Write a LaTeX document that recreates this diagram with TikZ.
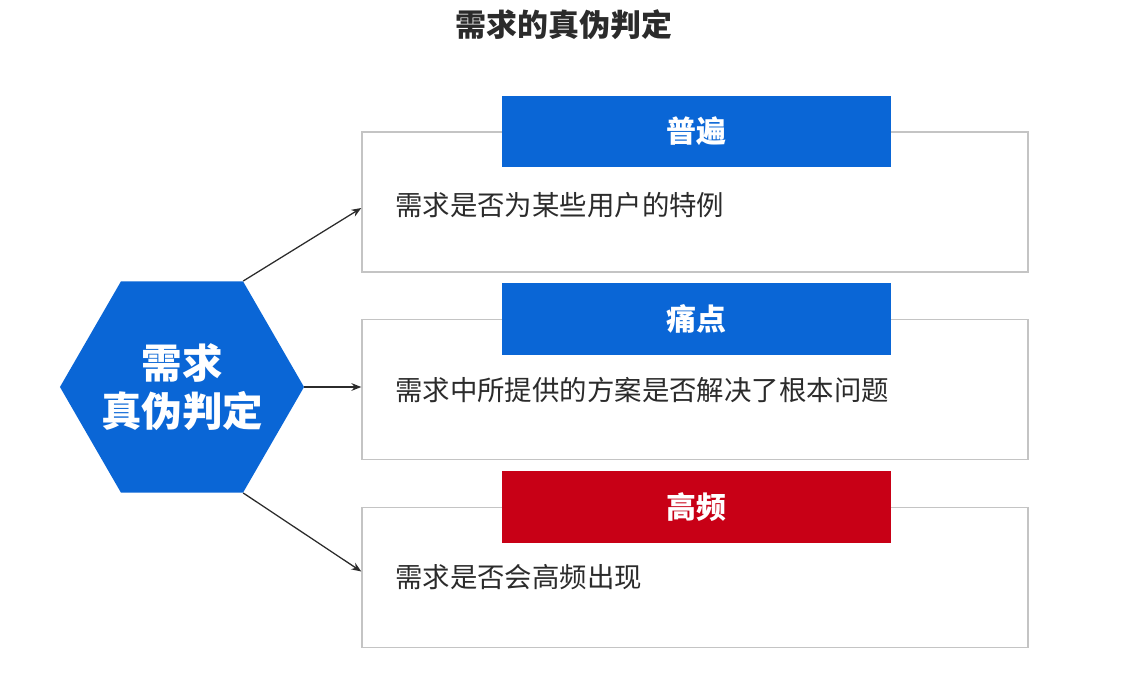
\documentclass[tikz,border=0pt]{standalone}
\usepackage{fontspec}
\setmainfont{Noto Sans CJK SC}
\usepackage{xcolor}
\usepackage{tikz}
\usetikzlibrary{shapes.geometric,arrows.meta,positioning}
\definecolor{judgeblue}{HTML}{0A66D6}
\definecolor{judgered}{HTML}{C80016}
\definecolor{boxgray}{HTML}{C4C4C4}
\definecolor{inkgray}{HTML}{2B2B2B}
\tikzset{
  hexagon/.style={
    shape = regular polygon,
    regular polygon sides = 6,
    minimum size = 6.1cm,
    inner sep = 0,
    fill = judgeblue
  },
  hexlabel/.style={
    text = white,
    align = center,
    inner sep = 0,
    font = \fontsize{28.8}{34}\selectfont\bfseries
  },
  panel/.style={
    draw = boxgray,
    line width = 0.9pt,
    fill = white,
    minimum width = 16.65cm,
    minimum height = 3.5cm,
    inner sep = 0
  },
  tag/.style={
    fill = judgeblue,
    text = white,
    minimum width = 9.725cm,
    minimum height = 1.775cm,
    inner sep = 0,
    font = \fontsize{21.3}{24}\selectfont\bfseries
  },
  tagred/.style={
    tag,
    fill = judgered
  },
  body/.style={
    anchor = west,
    text = inkgray,
    inner sep = 0,
    font = \fontsize{19.5}{22}\selectfont
  },
  link/.style={
    draw = inkgray,
    line width = 0.9pt,
    -{Stealth[length=7pt, width=5.5pt]}
  }
}

\begin{document}
\begin{tikzpicture}[x=0.025cm, y=-0.025cm]
        \useasboundingbox (0,0) rectangle (1138,683);
        \node[text=inkgray, font=\fontsize{22}{24}\selectfont\bfseries] (title) at (564,25) {需求的真伪判定};
        % center hexagon
        \node[hexagon] (hex) at (182,387) {};
        \node[hexlabel] (hextext) at (hex.center) {需求\\真伪判定};
        % three panels
        \node[panel] (box1) at (695,202) {};
        \node[panel] (box2) at (695,389.5) {};
        \node[panel] (box3) at (695,577.5) {};
        \node[tag] (tag1) at (696.5,131.5) {普遍};
        \node[tag] (tag2) at (696.5,319) {痛点};
        \node[tagred] (tag3) at (696.5,507) {高频};
        \node[body] (txt1) at (395,205) {需求是否为某些用户的特例};
        \node[body] (txt2) at (395,390) {需求中所提供的方案是否解决了根本问题};
        \node[body] (txt3) at (395,577) {需求是否会高频出现};
        % arrows
        \draw[link] (hex.60) -- ([yshift=-0.15cm]box1.west);
        \draw[link] (hex.east) -- (hex.east -| box2.west);
        \draw[link] (hex.-60) -- ([yshift=0.15cm]box3.west);
    \end{tikzpicture}
\end{document}
